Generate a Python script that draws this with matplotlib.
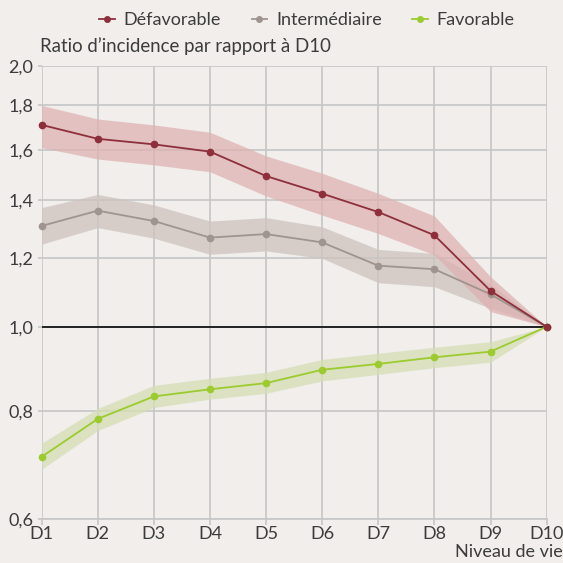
import matplotlib
matplotlib.use("Agg")
import matplotlib.pyplot as plt
from matplotlib.ticker import FixedLocator, FixedFormatter, NullLocator
import numpy as np

deciles = ["D1", "D2", "D3", "D4", "D5", "D6", "D7", "D8", "D9", "D10"]

defav = [1.709, 1.647, 1.623, 1.592, 1.492, 1.424, 1.356, 1.275, 1.100, 1.0]
defav_lo = [1.609, 1.561, 1.537, 1.509, 1.415, 1.345, 1.281, 1.210, 1.041, 1.0]
defav_hi = [1.800, 1.736, 1.709, 1.676, 1.574, 1.503, 1.425, 1.342, 1.142, 1.0]

inter = [1.307, 1.361, 1.324, 1.267, 1.279, 1.251, 1.176, 1.165, 1.090, 1.0]
inter_lo = [1.245, 1.301, 1.265, 1.212, 1.223, 1.199, 1.124, 1.112, 1.050, 1.0]
inter_hi = [1.372, 1.421, 1.382, 1.324, 1.336, 1.304, 1.228, 1.215, 1.120, 1.0]

fav = [0.708, 0.783, 0.831, 0.847, 0.861, 0.892, 0.906, 0.922, 0.936, 1.0]
fav_lo = [0.685, 0.759, 0.807, 0.825, 0.838, 0.866, 0.881, 0.897, 0.910, 1.0]
fav_hi = [0.734, 0.805, 0.856, 0.872, 0.886, 0.917, 0.932, 0.947, 0.961, 1.0]

yticks = [0.6, 0.8, 1.0, 1.2, 1.4, 1.6, 1.8, 2.0]
ytick_labels = ["0,6", "0,8", "1,0", "1,2", "1,4", "1,6", "1,8", "2,0"]

plt.rcParams['font.family'] = ['Lato', 'DejaVu Sans']
bg = "#F1EEEB"
txt = "#3C3C3C"
fs = 13

fig = plt.figure(figsize=(5.63, 5.63), dpi=100, facecolor=bg)
W, H = 563, 563
left, right = 41.7, 546.6
top, bottom = 65.7, 519.1
ax = fig.add_axes([left / W, 1 - bottom / H, (right - left) / W, (bottom - top) / H])
ax.set_facecolor(bg)

x = np.arange(1, 11)
ax.set_yscale('log')
ax.set_xlim(1, 10)
ax.set_ylim(0.6, 2.0)

series = [
    (defav, defav_lo, defav_hi, "#8E2F3B", "#DEB2B2", "Défavorable"),
    (inter, inter_lo, inter_hi, "#A0948F", "#CDC3BE", "Intermédiaire"),
    (fav, fav_lo, fav_hi, "#9BCB2F", "#D5DFB4", "Favorable"),
]

for vals, lo, hi, lc, fc, lab in [series[1], series[0], series[2]]:
    ax.fill_between(x, lo, hi, color=fc, alpha=0.75, lw=0, zorder=2)
for vals, lo, hi, lc, fc, lab in [series[2], series[1], series[0]]:
    ax.plot(x, vals, color=lc, lw=1.3, marker='o', ms=4.5, zorder=4,
            clip_on=False, label=lab)

ax.axhline(1.0, color="#222222", lw=1.4, zorder=3)

ax.yaxis.set_major_locator(FixedLocator(yticks))
ax.yaxis.set_major_formatter(FixedFormatter(ytick_labels))
ax.yaxis.set_minor_locator(NullLocator())
ax.set_xticks(x)
ax.set_xticklabels(deciles)

ax.grid(True, color="#C6C6C6", lw=1.2, zorder=1)
for s in ax.spines.values():
    s.set_visible(False)
ax.tick_params(axis='y', length=3, color="#C6C6C6", width=1.2, labelsize=fs,
               labelcolor=txt, pad=3)
ax.tick_params(axis='x', length=4, color="#C6C6C6", width=1.2, labelsize=fs,
               labelcolor=txt, pad=1)
ax.axhline(0.6, color="#C6C6C6", lw=1.2, zorder=1, clip_on=False)

fig.text(40 / W, 1 - 46 / H, "Ratio d\u2019incidence par rapport à D10", fontsize=13.4,
         color=txt, ha='left', va='center')
fig.text(563 / W, 1 - 552 / H, "Niveau de vie", fontsize=fs, color=txt,
         ha='right', va='center')

hl = [ax.lines[2], ax.lines[1], ax.lines[0]]
leg = fig.legend(handles=hl, labels=[h.get_label() for h in hl], loc='center',
                 bbox_to_anchor=(307 / W, 1 - 20 / H), ncol=3, frameon=False,
                 fontsize=fs, handlelength=0.85, handletextpad=0.5,
                 columnspacing=1.7, labelcolor=txt, borderpad=0)
for lh in leg.legend_handles:
    lh.set_markersize(4)

fig.savefig("out.png", dpi=100, facecolor=bg)
